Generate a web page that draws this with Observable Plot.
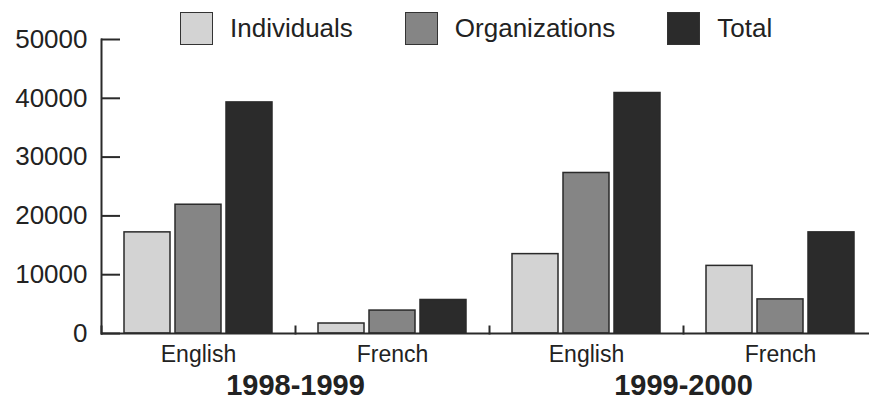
<!DOCTYPE html>
<html>
<head>
<meta charset="utf-8">
<script src="https://cdn.jsdelivr.net/npm/d3@7"></script>
<script src="https://cdn.jsdelivr.net/npm/@observablehq/plot@0.6"></script>
<style>
  body { margin: 0; background: #fff; }
  #wrap { position: relative; width: 869px; height: 400px; overflow: hidden;
          font-family: "Liberation Sans", Arial, Helvetica, sans-serif; }
  #legend { position: absolute; left: 180px; top: 12px; display: flex; gap: 52px; }
  .item { display: flex; align-items: center; font-size: 26px; color: #222; }
  .sw { width: 33px; height: 33px; box-sizing: border-box; border: 1.5px solid #333; margin-right: 17px; }
</style>
</head>
<body>
<div id="wrap"><div id="legend"></div></div>
<script>
// ---- data ----
const years = ["1998-1999", "1998-1999", "1999-2000", "1999-2000"];
const languages = ["English", "French", "English", "French"];
const series = ["Individuals", "Organizations", "Total"];
const individuals = [17200, 1700, 13500, 11500];
const organizations = [21900, 3900, 27300, 5800];
const totals = [39300, 5700, 40900, 17200];
const yTicks = [0, 10000, 20000, 30000, 40000, 50000];
const colors = ["#d3d3d3", "#858585", "#2b2b2b"];

// ---- build tables ----
const groups = years.map((y, i) => ({key: y + " " + languages[i], year: y, lang: languages[i]}));
const values = [individuals, organizations, totals];
const rows = [];
groups.forEach((g, i) => {
  series.forEach((s, j) => rows.push({group: g.key, series: s, value: values[j][i]}));
});

const ink = "#2a2a2a";
const chart = Plot.plot({
  width: 869,
  height: 400,
  marginLeft: 100,
  marginRight: 0,
  marginTop: 39,
  marginBottom: 67,
  style: {fontFamily: "'Liberation Sans', Arial, Helvetica, sans-serif", background: "transparent", color: "#222"},
  fx: {domain: groups.map(d => d.key), range: [100, 877], paddingInner: 0, paddingOuter: 0, axis: null, label: null},
  x: {domain: series, paddingInner: 0.096, paddingOuter: 0.42, axis: null},
  y: {domain: [0, 50000], axis: null},
  color: {domain: series, range: colors},
  marks: [
    Plot.barY(rows, {fx: "group", x: "series", y: "value", fill: "series", stroke: ink, strokeWidth: 1.5}),
    Plot.ruleY([0], {stroke: ink, strokeWidth: 2}),
    Plot.frame({anchor: "left", facetAnchor: "left", stroke: ink, strokeWidth: 2}),
    Plot.frame({anchor: "left", insetTop: 287, stroke: ink, strokeWidth: 2}),
    Plot.axisY({ticks: yTicks, tickFormat: "d", tickSize: 19, dx: 19, tickPadding: 14,
                fontSize: 26, color: "#222", stroke: ink, strokeWidth: 2, label: null}),
    Plot.text(groups, {fx: "key", text: "lang", frameAnchor: "bottom", dy: 28, fontSize: 23, fill: "#222"}),
    Plot.text(groups.filter(d => d.lang === "French"), {fx: "key", text: "year", frameAnchor: "bottom-left",
                textAnchor: "middle", dy: 61, fontSize: 29, fontWeight: "bold", fill: "#222"})
  ]
});
document.getElementById("wrap").prepend(chart);

// ---- legend ----
const legend = document.getElementById("legend");
series.forEach((s, i) => {
  const item = document.createElement("div");
  item.className = "item";
  const sw = document.createElement("div");
  sw.className = "sw";
  sw.style.background = colors[i];
  item.appendChild(sw);
  item.appendChild(document.createTextNode(s));
  legend.appendChild(item);
});
</script>
</body>
</html>
